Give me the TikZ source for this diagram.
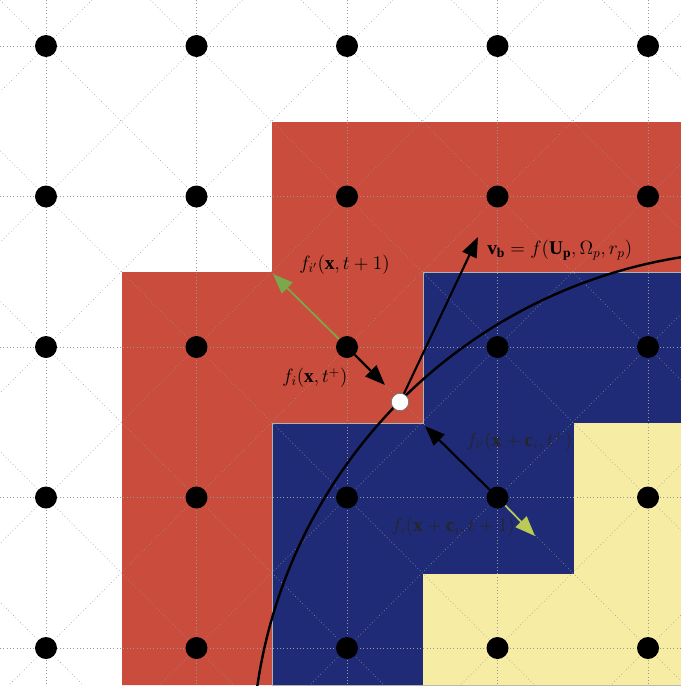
\documentclass[tikz,border=0pt]{standalone}
\usepackage{amsmath, amssymb}
\usepackage{fontspec}
\setmainfont{Liberation Serif}
\usepackage{tikz}
\usetikzlibrary{arrows.meta}

\definecolor{cellred}{RGB}{201,76,60}
\definecolor{cellblue}{RGB}{31,43,118}
\definecolor{cellyellow}{RGB}{246,236,164}
\definecolor{arrgreen}{RGB}{122,168,74}
\definecolor{arryellow}{RGB}{186,202,84}

\tikzset{
  lattice/.style={circle,fill=black,inner sep=0pt,minimum size=16.5pt},
  wallpt/.style={circle,fill=white,draw=black!60,line width=0.4pt,inner sep=0pt,minimum size=13pt},
  gridline/.style={black!40,dotted,line width=0.5pt},
  popvec/.style={line width=1.6pt,-{Triangle[length=15pt,width=11.5pt]}},
  lbl/.style={anchor=west,inner sep=0.75pt,font=\fontsize{14.5}{16}\selectfont},
}

\begin{document}
\begin{tikzpicture}[x=0.75pt,y=0.75pt,yscale=-1,xscale=1]
    \useasboundingbox (0,0) rectangle (681,689);

    %Shape: red cells
    \fill[cellred] (272,122) -- (681,122) -- (681,685) -- (122,685) -- (122,272) -- (272,272) -- cycle ;
    %Shape: blue cells
    \fill[cellblue,draw=black!30,line width=0.6pt] (423,272) -- (690,272) -- (690,685) -- (272,685) -- (272,423) -- (423,423) -- cycle ;
    %Shape: yellow cells
    \fill[cellyellow] (574,423) -- (681,423) -- (681,685) -- (423,685) -- (423,574) -- (574,574) -- cycle ;

    %Straight Lines: lattice links
    \begin{scope}
      \clip (0,0) rectangle (681,685);
      \foreach \k in {0,...,4} {
        \draw[gridline] (0,46+150.5*\k) -- (681,46+150.5*\k);
        \draw[gridline] (46+150.5*\k,0) -- (46+150.5*\k,685);
      }
      \foreach \k in {-5,...,5}
        \draw[gridline] (150.5*\k,0) -- ++(720,720);
      \foreach \k in {0,...,9}
        \draw[gridline] (92+150.5*\k,0) -- ++(-720,720);
      %Curve: wall
      \draw[line width=1.8pt] (761,760) circle [radius=509];
    \end{scope}

    %Shape: lattice nodes
    \foreach \i in {0,...,4}
      \foreach \j in {0,...,4}
        \node[lattice] (p\i\j) at (46+150.5*\i,46+150.5*\j) {};

    %Shape: wall point
    \node[wallpt] (w) at (400,402) {};

    %Arrows
    \coordinate (a1) at (385,385);
    \coordinate (g1) at (273,274);
    \coordinate (vb) at (478,237);
    \coordinate (b1) at (425,426);
    \coordinate (y1) at (535,536);
    \draw[popvec] (p22) -- (a1) ;
    \draw[popvec,arrgreen,line width=1.3pt] (p22) -- (g1) ;
    \draw[popvec] (w) -- (vb) ;
    \draw[popvec] (p33) -- (b1) ;
    \draw[popvec,arryellow,line width=1.3pt] (p33) -- (y1) ;
    \node[wallpt] at (w) {};

    % Text Node
    \node[lbl] (lb1) at (298,265) {$f_{i'}(\mathbf{x},t+1)$};
    % Text Node
    \node[lbl] (lb2) at (281,378) {$f_{i}(\mathbf{x},t^{+})$};
    % Text Node
    \node[lbl] (lb3) at (486,250) {$\mathbf{v}_{\mathbf{b}}=f(\mathbf{U}_{\mathbf{p}},\Omega_{p},r_{p})$};
    % Text Node
    \node[lbl,text=black!85] (lb4) at (465,442) {$f_{i'}(\mathbf{x}+\mathbf{c}_{i},t^{+})$};
    % Text Node
    \node[lbl,text=black!85] (lb5) at (390,527) {$f_{i}(\mathbf{x}+\mathbf{c}_{i},t+1)$};
\end{tikzpicture}
\end{document}
